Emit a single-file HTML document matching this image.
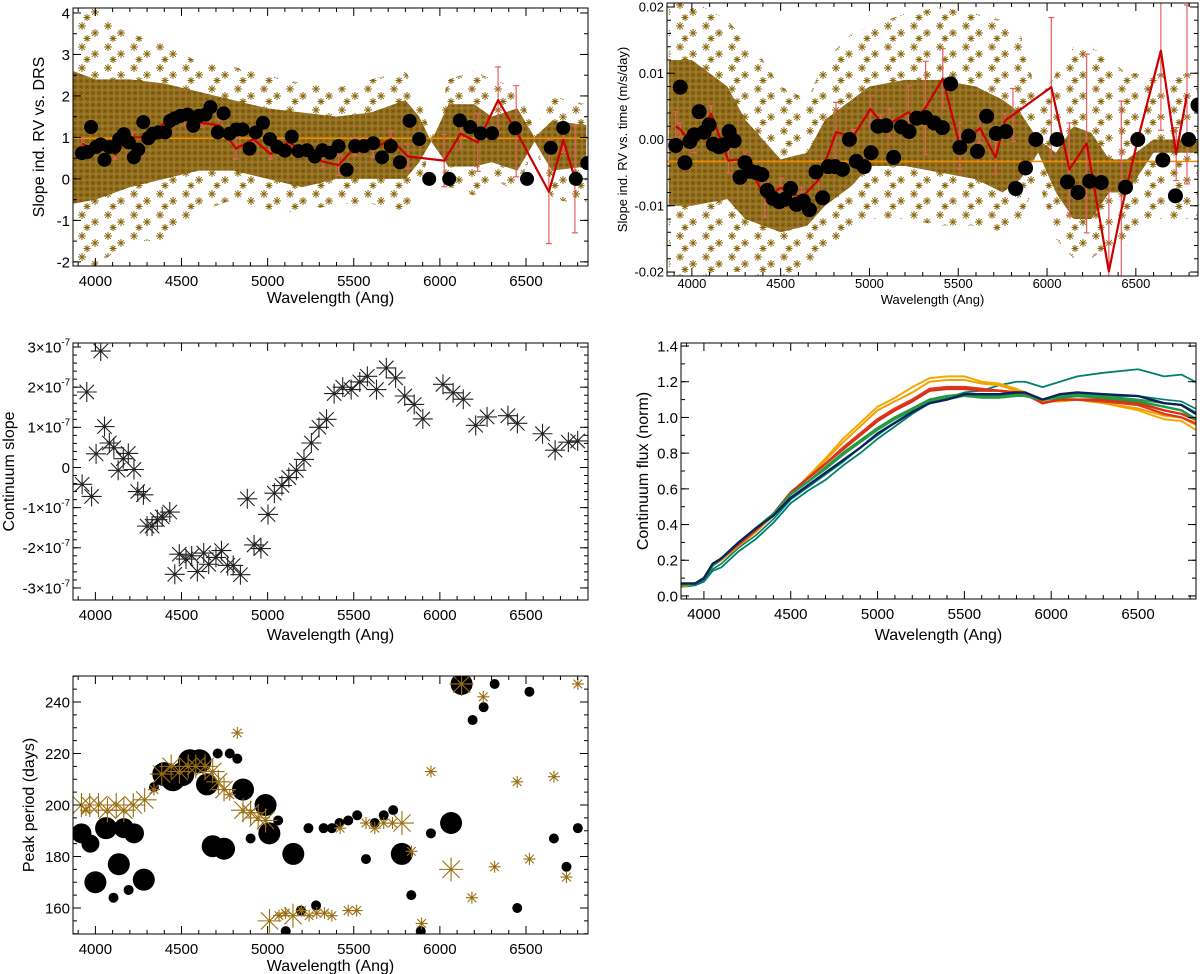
<!DOCTYPE html>
<html><head><meta charset="utf-8">
<style>
html,body{margin:0;padding:0;background:#fff;}
svg{display:block;font-family:"Liberation Sans",Arial,sans-serif;}
</style></head>
<body>
<svg id="fig" width="1200" height="974" viewBox="0 0 1200 974" xmlns="http://www.w3.org/2000/svg">
<defs>
<pattern id="densePat" patternUnits="userSpaceOnUse" width="6" height="6">
 <rect width="6" height="6" fill="#a8843a"/>
 <path d="M3 0V6M0 3H6M0.6 0.6L5.4 5.4M5.4 0.6L0.6 5.4" stroke="#7a5806" stroke-width="0.9"/>
</pattern>
<pattern id="sparsePat" patternUnits="userSpaceOnUse" width="26" height="21">
 <path d="M4 1V9M0 5H8M1.2 2.2L6.8 7.8M6.8 2.2L1.2 7.8" stroke="#8b6508" stroke-width="1"/>
 <path d="M17 8V16M13 12H21M14.2 9.2L19.8 14.8M19.8 9.2L14.2 14.8" stroke="#8b6508" stroke-width="1"/>
 <path d="M9 14V21M5.5 17.5H12.5M6.5 15L11.5 20M11.5 15L6.5 20" stroke="#8b6508" stroke-width="1"/>
</pattern>
</defs>
</svg>
<script>
// ---------------- Panel 1 data: slope vs DRS ----------------
const p1BandLam = [3870,4000,4200,4400,4600,4800,5000,5200,5400,5600,5800,5880,5950,6050,6200,6300,6450,6550,6650,6850];
const p1InnerHi = [2.6,2.4,2.4,2.3,2.1,1.9,1.7,1.6,1.5,1.6,1.9,1.5,0.9,1.8,1.8,1.5,1.7,1.0,1.4,1.3];
const p1InnerLo = [-0.6,-0.5,-0.2,0.0,0.2,0.2,0.0,-0.2,0.0,0.0,0.0,0.4,0.9,0.3,0.3,0.4,0.2,0.9,0.2,0.3];
const p1OuterHi = [4.1,4.1,3.5,3.3,2.8,2.7,2.5,2.3,2.2,2.4,2.6,2.0,1.0,2.4,2.6,2.4,2.2,1.2,2.0,1.8];
const p1OuterLo = [-2.1,-2.1,-1.5,-1.5,-0.8,-0.5,-0.8,-0.8,-0.6,-0.6,-0.8,-0.2,0.8,-0.2,-0.4,0.0,-0.3,0.8,-0.5,-0.6];
const p1DotLam = [3922,3955,3975,4004,4031,4053,4082,4111,4138,4165,4194,4223,4249,4278,4307,4334,4365,4405,4434,4461,4494,4535,4568,4601,4639,4668,4711,4744,4780,4817,4855,4895,4931,4973,5013,5056,5100,5140,5180,5229,5274,5318,5363,5412,5459,5508,5559,5613,5664,5715,5768,5824,5880,5938,6054,6116,6176,6237,6303,6437,6506,6644,6716,6789,6856];
const p1DotVal = [0.62,0.65,1.25,0.77,0.83,0.46,0.77,0.77,0.96,1.08,0.88,0.52,0.71,1.37,0.98,1.09,1.12,1.12,1.4,1.46,1.52,1.55,1.28,1.52,1.55,1.73,1.12,1.58,1.09,1.19,1.19,0.73,1.12,1.35,0.96,0.77,0.68,1.02,0.67,0.69,0.54,0.69,0.63,0.79,0.22,0.79,0.79,0.86,0.52,0.79,0.4,1.4,0.96,0.0,0.0,1.41,1.25,1.1,1.1,1.22,0.0,0.75,1.23,0.0,0.38];
const p1RedLam = [3922,3960,4015,4060,4116,4171,4216,4283,4350,4428,4517,4617,4717,4817,4918,5018,5118,5218,5318,5412,5508,5613,5715,5815,6025,6120,6220,6338,6443,6633,6717,6784];
const p1RedVal = [0.85,0.77,0.85,0.85,0.58,0.92,1.0,1.0,1.15,1.46,1.42,1.35,1.29,0.73,0.96,0.6,0.88,0.69,0.42,0.33,0.77,0.72,0.96,0.54,0.44,1.09,0.88,1.9,1.15,-0.31,0.94,0.0];
const p1RedErr = [0.15,0.05,0.05,0.05,0.1,0.05,0.12,0.05,0.05,0.1,0.1,0.1,0.15,0.25,0.1,0.12,0.05,0.08,0.15,0.25,0.2,0.2,0.2,0.3,0.63,0.35,0.7,0.8,1.1,1.25,0.3,1.3];
const p1Mean = [0.98];

// ---------------- Panel 2 data: slope vs time ----------------
const p2BandLam = [3870,4000,4200,4300,4400,4500,4650,4750,4900,5000,5200,5400,5600,5750,5850,5950,6050,6150,6250,6350,6450,6600,6850];
const p2InnerHi = [0.012,0.012,0.008,0.003,0.0,-0.003,-0.002,0.003,0.006,0.008,0.009,0.009,0.008,0.006,0.004,0.0,-0.002,0.002,0.001,-0.003,-0.003,0.0,0.0];
const p2InnerLo = [-0.01,-0.01,-0.009,-0.012,-0.013,-0.014,-0.013,-0.01,-0.007,-0.004,-0.004,-0.005,-0.006,-0.008,-0.006,-0.002,-0.008,-0.012,-0.012,-0.008,-0.008,-0.002,-0.002];
const p2OuterHi = [0.021,0.021,0.018,0.015,0.012,0.008,0.006,0.012,0.016,0.017,0.019,0.02,0.019,0.018,0.016,0.006,0.01,0.014,0.014,0.012,0.01,0.01,0.01];
const p2OuterLo = [-0.021,-0.021,-0.02,-0.02,-0.021,-0.021,-0.02,-0.017,-0.014,-0.012,-0.012,-0.013,-0.013,-0.014,-0.012,-0.006,-0.015,-0.018,-0.018,-0.016,-0.016,-0.012,-0.012];
const p2DotLam = [3909,3935,3961,3989,4013,4041,4069,4097,4121,4152,4177,4210,4238,4271,4299,4329,4361,4394,4424,4457,4491,4524,4556,4589,4628,4662,4699,4736,4768,4807,4848,4887,4926,4970,5009,5048,5093,5136,5180,5223,5266,5316,5364,5411,5457,5509,5558,5608,5660,5714,5768,5823,5879,5937,6056,6115,6175,6240,6305,6442,6511,6652,6723,6797,6850];
const p2DotVal = [-0.0009,0.0079,-0.0035,-0.0003,0.0007,0.0042,0.0011,0.0022,-0.0007,-0.0011,-0.0008,0.0012,-0.0002,-0.0057,-0.0035,-0.0048,-0.005,-0.0053,-0.0077,-0.0089,-0.0094,-0.009,-0.0074,-0.0098,-0.0093,-0.0106,-0.0049,-0.0088,-0.0041,-0.0041,-0.0045,0.0,-0.0033,-0.0041,-0.002,0.002,0.0021,-0.0027,0.0019,0.0012,0.0032,0.0033,0.0025,0.0018,0.0084,-0.0012,0.0005,-0.0018,0.0035,0.0009,0.0012,-0.0074,-0.0043,0.0,0.0,-0.0064,-0.008,-0.0063,-0.0065,-0.0072,0.0,-0.0031,-0.0085,0.0,0.0052];
const p2RedLam = [3909,3935,4011,4108,4206,4303,4411,4502,4617,4714,4812,4909,5006,5061,5115,5219,5266,5316,5413,5509,5569,5623,5710,5764,5808,6024,6126,6223,6348,6418,6511,6641,6727,6788];
const p2RedVal = [0.002,0.0015,-0.001,0.0039,-0.0032,-0.0029,-0.0088,-0.0073,-0.0088,-0.0061,0.0011,0.0005,0.0046,0.0027,0.0024,0.0041,0.0032,0.0048,0.0092,-0.001,0.0005,0.0017,-0.0027,0.0029,0.0037,0.0079,-0.0045,-0.0006,-0.0199,-0.0107,0.0,0.0134,-0.0022,0.0068];
const p2RedErr = [0.0022,0.001,0.001,0.0012,0.0018,0.001,0.003,0.0015,0.0015,0.002,0.0045,0.001,0.002,0.001,0.0022,0.004,0.001,0.007,0.0045,0.0035,0.001,0.0022,0.0025,0.001,0.004,0.0105,0.007,0.0135,0.012,0.0165,0.001,0.012,0.004,0.0135];
const p2Mean = [-0.0033];

// ---------------- Panel 3 data: continuum slope (units 1e-7) ----------------
const p3Lam = [3923,3978,3950,4004,4031,4053,4081,4107,4132,4162,4191,4224,4246,4279,4300,4329,4360,4388,4432,4461,4487,4526,4559,4592,4629,4658,4700,4732,4768,4800,4842,4882,4921,4961,5002,5039,5083,5123,5167,5211,5254,5298,5342,5386,5436,5485,5535,5579,5632,5689,5743,5796,5851,5901,6018,6077,6136,6208,6274,6395,6450,6596,6669,6746,6800];
const p3Val = [-0.42,-0.72,1.88,0.34,2.9,1.02,0.61,0.49,-0.07,0.22,0.35,-0.05,-0.6,-0.68,-1.46,-1.46,-1.3,-1.23,-1.11,-2.66,-2.16,-2.28,-2.2,-2.59,-2.13,-2.41,-2.24,-2.07,-2.44,-2.44,-2.67,-0.78,-1.93,-2.02,-1.17,-0.64,-0.45,-0.25,-0.07,0.2,0.61,1.0,1.2,1.84,2.0,1.94,2.13,2.27,1.94,2.48,2.23,1.78,1.57,1.21,2.07,1.86,1.7,1.05,1.26,1.29,1.1,0.84,0.43,0.63,0.66];

// ---------------- Panel 4 data: continuum flux curves ----------------
const p4Lam = [3870,3950,4000,4050,4100,4200,4300,4400,4500,4600,4700,4800,4900,5000,5100,5200,5300,5400,5500,5600,5700,5800,5850,5950,6050,6150,6300,6500,6650,6750,6850];
const p4Yellow1 = [0.05,0.07,0.1,0.17,0.2,0.28,0.36,0.45,0.57,0.67,0.77,0.88,0.97,1.06,1.11,1.17,1.22,1.23,1.23,1.2,1.19,1.16,1.14,1.09,1.09,1.1,1.08,1.04,0.99,0.98,0.92];
const p4Yellow2 = [0.05,0.07,0.1,0.17,0.2,0.28,0.36,0.45,0.57,0.66,0.76,0.86,0.95,1.04,1.09,1.14,1.2,1.21,1.21,1.19,1.18,1.15,1.13,1.09,1.09,1.1,1.08,1.05,1.01,1.0,0.95];
const p4Red1 = [0.06,0.07,0.1,0.17,0.21,0.29,0.37,0.46,0.58,0.66,0.74,0.83,0.91,0.99,1.05,1.1,1.16,1.17,1.17,1.16,1.15,1.14,1.13,1.08,1.1,1.1,1.09,1.07,1.02,1.0,0.96];
const p4Red2 = [0.06,0.07,0.1,0.17,0.21,0.29,0.37,0.46,0.58,0.66,0.74,0.82,0.9,0.98,1.04,1.09,1.15,1.16,1.16,1.15,1.15,1.14,1.13,1.08,1.1,1.1,1.1,1.08,1.04,1.02,0.98];
const p4Green1 = [0.06,0.07,0.1,0.17,0.21,0.3,0.38,0.46,0.57,0.64,0.72,0.8,0.87,0.94,1.0,1.05,1.1,1.12,1.13,1.12,1.12,1.13,1.12,1.1,1.11,1.12,1.11,1.09,1.06,1.04,0.98];
const p4Green2 = [0.06,0.07,0.1,0.17,0.21,0.3,0.38,0.46,0.57,0.64,0.71,0.79,0.86,0.93,0.99,1.04,1.09,1.11,1.12,1.11,1.11,1.12,1.12,1.1,1.12,1.13,1.12,1.1,1.08,1.07,1.02];
const p4Navy = [0.07,0.07,0.1,0.18,0.21,0.3,0.38,0.45,0.55,0.62,0.69,0.76,0.83,0.91,0.97,1.03,1.08,1.1,1.13,1.13,1.13,1.14,1.14,1.1,1.13,1.14,1.13,1.12,1.08,1.07,1.01];
const p4Teal1 = [0.05,0.06,0.08,0.14,0.16,0.25,0.32,0.41,0.52,0.59,0.65,0.73,0.8,0.88,0.95,1.02,1.08,1.11,1.14,1.15,1.18,1.2,1.2,1.17,1.2,1.23,1.25,1.27,1.23,1.24,1.19];
const p4Teal2 = [0.05,0.06,0.09,0.15,0.18,0.27,0.34,0.43,0.54,0.61,0.68,0.75,0.83,0.9,0.97,1.03,1.08,1.1,1.12,1.11,1.11,1.12,1.12,1.1,1.12,1.13,1.12,1.12,1.1,1.09,1.04];

// ---------------- Panel 5 data: peak period ----------------
const p5DotLam = [3919,3971,4062,4000,4165,4224,4136,4281,4105,4193,4340,4400,4450,4505,4549,4604,4648,4681,4747,4710,4780,4824,4857,4988,5010,4901,5061,5149,5237,5325,5373,5417,5468,5520,5571,5622,5674,5729,5779,5834,5889,5948,6065,6126,6190,6254,6318,6520,6449,6662,6735,6801,5105,5193,5281];
const p5DotVal = [189,185,191,170,191,189,177,171,164,167,207,212,210,212,217,217,208,184,183,220,220,218,206,200,189,187,194,181,191,191,191,193,194,196,179,193,196,198,181,165,151,189,193,247,233,238,247,244,160,187,176,191,151,159,161];
const p5DotSize = [10,9,11,11,10,10,11,11,5,5,5,12,12,12,12,12,11,11,11,5,5,5,11,11,11,5,5,11,5,5,5,5,5,5,5,5,5,5,11,5,5,5,11,11,5,5,5,5,5,5,5,5,5,5,5];
const p5StarLam = [3919,3967,4018,3945,4070,4121,4165,4220,4286,4340,4385,4440,4488,4539,4583,4637,4681,4714,4747,4780,4824,4857,4901,4945,4988,5011,5066,5103,5147,5197,5241,5285,5330,5373,5421,5468,5517,5571,5622,5674,5725,5780,5835,5894,5948,6065,6126,6186,6252,6318,6449,6520,6662,6735,6801];
const p5StarVal = [200,200,200,198,198,200,198,200,202,206,212,215,213,215,215,215,213,209,206,204,228,198,197,195,194,155,157,158,157,159,157,158,158,157,191,159,159,193,191,193,193,193,182,154,213,175,247,164,242,176,209,179,211,172,247];
const p5StarSize = [12,12,12,6,12,12,12,12,12,6,12,12,12,12,12,12,12,12,12,6,6,12,12,12,12,12,6,6,12,6,6,6,6,6,6,6,6,6,6,6,6,12,6,6,6,12,12,6,6,6,6,6,6,6,6];

const NS = "http://www.w3.org/2000/svg";
const svg = document.getElementById('fig');
function mk(tag, attrs, parent){
  const e = document.createElementNS(NS, tag);
  for (const k in attrs) e.setAttribute(k, attrs[k]);
  (parent || svg).appendChild(e);
  return e;
}

function panel(cfg){
  const g = mk('g', {});
  
  
  const sx = v => cfg.x0 + (v - cfg.xd[0]) / (cfg.xd[1] - cfg.xd[0]) * (cfg.x1 - cfg.x0);
  const sy = v => cfg.y1 - (v - cfg.yd[0]) / (cfg.yd[1] - cfg.yd[0]) * (cfg.y1 - cfg.y0);
  const cid = 'clip-' + cfg.name;
  const cp = mk('clipPath', {id: cid}, g);
  mk('rect', {x: cfg.x0, y: cfg.y0, width: cfg.x1 - cfg.x0, height: cfg.y1 - cfg.y0}, cp);
  const plot = mk('g', {'clip-path': 'url(#' + cid + ')'}, g);
  
  
  const ax = mk('g', {stroke: '#000', 'stroke-width': 1, fill: 'none'}, g);
  
  
  mk('rect', {x: cfg.x0, y: cfg.y0, width: cfg.x1 - cfg.x0, height: cfg.y1 - cfg.y0}, ax);
  for (let v = cfg.xMinorStart; v <= cfg.xd[1]; v += cfg.xMinor){
    if (v < cfg.xd[0]) continue;
    const isMaj = Math.abs(((v - cfg.xMajorStart) % cfg.xMajor + cfg.xMajor) % cfg.xMajor) < 1e-6;
    const L = isMaj ? 8 : 4;
    const x = sx(v);
    mk('line', {x1: x, x2: x, y1: cfg.y1, y2: cfg.y1 - L}, ax);
    mk('line', {x1: x, x2: x, y1: cfg.y0, y2: cfg.y0 + L}, ax);
  }
  cfg.yMinorVals.forEach(v => {
    const y = sy(v);
    mk('line', {x1: cfg.x0, x2: cfg.x0 + 4, y1: y, y2: y}, ax);
    mk('line', {x1: cfg.x1, x2: cfg.x1 - 4, y1: y, y2: y}, ax);
  });
  cfg.yTicks.forEach(v => {
    const y = sy(v);
    mk('line', {x1: cfg.x0, x2: cfg.x0 + 8, y1: y, y2: y}, ax);
    mk('line', {x1: cfg.x1, x2: cfg.x1 - 8, y1: y, y2: y}, ax);
  });
  const fs = cfg.fs;
  cfg.xLabels.forEach(v => {
    const t = mk('text', {x: sx(v), y: cfg.y1 + cfg.xLabOff, 'font-size': fs, 'text-anchor': 'middle', fill: '#000'}, g);
    
    
    t.textContent = v;
  });
  cfg.yTicks.forEach((v, i) => {
    const t = mk('text', {x: cfg.x0 - 3, y: sy(v) + fs * 0.36, 'font-size': fs, 'text-anchor': 'end', fill: '#000'}, g);
    
    
    if (cfg.sci) {
      const n = cfg.yTickText[i];
      if (n === '0') t.textContent = '0';
      else {
        t.textContent = n + '\u00d710';
        const sp = mk('tspan', {dy: -7, 'font-size': fs * 0.65}, t);
        sp.textContent = '-7';
      }
    } else t.textContent = cfg.yTickText[i];
  });
  const xt = mk('text', {x: (cfg.x0 + cfg.x1) / 2, y: cfg.xTitleY, 'font-size': cfg.tfs, 'text-anchor': 'middle', fill: '#000'}, g);
  
  
  xt.textContent = 'Wavelength (Ang)';
  const yt = mk('text', {x: 0, y: 0, 'font-size': cfg.tfs, 'text-anchor': 'middle', fill: '#000',
    transform: 'translate(' + cfg.yTitleX + ',' + (cfg.y0 + cfg.y1) / 2 + ') rotate(-90)'}, g);
  
  
  yt.textContent = cfg.yTitle;
  return {sx, sy, plot};
}

function band(P, lam, hi, lo, fill, name){
  let d = '';
  lam.forEach((l, i) => { d += (i ? 'L' : 'M') + P.sx(l) + ' ' + P.sy(hi[i]); });
  for (let i = lam.length - 1; i >= 0; i--) d += 'L' + P.sx(lam[i]) + ' ' + P.sy(lo[i]);
  const p = mk('path', {d: d + 'Z', fill: fill, stroke: 'none'}, P.plot);
  
  
}
function line(P, xs, ys, color, w, name){
  const d = xs.map((x, i) => (i ? 'L' : 'M') + P.sx(x) + ' ' + P.sy(ys[i])).join('');
  const p = mk('path', {d: d, fill: 'none', stroke: color, 'stroke-width': w, 'stroke-linejoin': 'round'}, P.plot);
  
  
}
function errbars(P, xs, ys, es, name){
  const g = mk('g', {stroke: '#e06060', 'stroke-width': 1.2}, P.plot);
  
  
  xs.forEach((x, i) => {
    const X = P.sx(x), a = P.sy(ys[i] + es[i]), b = P.sy(ys[i] - es[i]);
    mk('line', {x1: X, x2: X, y1: a, y2: b}, g);
    mk('line', {x1: X - 3, x2: X + 3, y1: a, y2: a}, g);
    mk('line', {x1: X - 3, x2: X + 3, y1: b, y2: b}, g);
  });
}
function dots(P, xs, ys, rs, name){
  const g = mk('g', {fill: '#000'}, P.plot);
  
  
  xs.forEach((x, i) => {
    const c = mk('circle', {cx: P.sx(x), cy: P.sy(ys[i]), r: Array.isArray(rs) ? rs[i] : rs}, g);
    
    
  });
}
function stars(P, xs, ys, ss, color, w, name){
  const g = mk('g', {stroke: color, 'stroke-width': w, fill: color}, P.plot);
  
  
  xs.forEach((x, i) => {
    const X = P.sx(x), Y = P.sy(ys[i]), s = Array.isArray(ss) ? ss[i] : ss, d = s * 0.72;
    const p = mk('path', {d: 'M' + (X - s) + ' ' + Y + 'H' + (X + s) + 'M' + X + ' ' + (Y - s) + 'V' + (Y + s) +
      'M' + (X - d) + ' ' + (Y - d) + 'L' + (X + d) + ' ' + (Y + d) + 'M' + (X - d) + ' ' + (Y + d) + 'L' + (X + d) + ' ' + (Y - d)}, g);
    
    
    mk('circle', {cx: X, cy: Y, r: 1.3, stroke: 'none'}, g);
  });
}
function range(a, b, s){ const r = []; for (let v = a; v <= b + 1e-9; v += s) r.push(+v.toFixed(6)); return r; }

// ---- Panel 1 ----
const P1 = panel({name: 'panel-slope-vs-drs', x0: 73, x1: 588, y0: 8, y1: 266, xd: [3870, 6860], yd: [-2.1, 4.12],
  xMajor: 500, xMajorStart: 4000, xMinor: 100, xMinorStart: 3900, xLabels: [4000,4500,5000,5500,6000,6500],
  yTicks: [-2,-1,0,1,2,3,4], yTickText: ['-2','-1','0','1','2','3','4'], yMinorVals: range(-2, 4, 0.5),
  fs: 15, tfs: 16, xLabOff: 20, xTitleY: 303, yTitleX: 44, yTitle: 'Slope ind. RV vs. DRS'});
band(P1, p1BandLam, p1OuterHi, p1OuterLo, 'url(#sparsePat)', 'sparse-line-scatter');
band(P1, p1BandLam, p1InnerHi, p1InnerLo, 'url(#densePat)', 'dense-line-scatter');
line(P1, [3870, 6860], [p1Mean[0], p1Mean[0]], '#f08c00', 1.6, 'mean-line');
errbars(P1, p1RedLam, p1RedVal, p1RedErr, 'binned-error-bars');
line(P1, p1RedLam, p1RedVal, '#cc0000', 2.2, 'binned-mean-line');
dots(P1, p1DotLam, p1DotVal, 7, 'order-points');

// ---- Panel 2 ----
const P2 = panel({name: 'panel-slope-vs-time', x0: 667, x1: 1198, y0: 3, y1: 276, xd: [3860, 6850], yd: [-0.0206, 0.0206],
  xMajor: 500, xMajorStart: 4000, xMinor: 100, xMinorStart: 3900, xLabels: [4000,4500,5000,5500,6000,6500],
  yTicks: [-0.02,-0.01,0,0.01,0.02], yTickText: ['-0.02','-0.01','0.00','0.01','0.02'], yMinorVals: range(-0.02, 0.02, 0.002),
  fs: 13, tfs: 13, xLabOff: 12, xTitleY: 304, yTitleX: 627, yTitle: 'Slope ind. RV vs. time (m/s/day)'});
band(P2, p2BandLam, p2OuterHi, p2OuterLo, 'url(#sparsePat)', 'sparse-line-scatter');
band(P2, p2BandLam, p2InnerHi, p2InnerLo, 'url(#densePat)', 'dense-line-scatter');
line(P2, [3860, 6850], [p2Mean[0], p2Mean[0]], '#f08c00', 1.6, 'mean-line');
errbars(P2, p2RedLam, p2RedVal, p2RedErr, 'binned-error-bars');
line(P2, p2RedLam, p2RedVal, '#cc0000', 2.2, 'binned-mean-line');
dots(P2, p2DotLam, p2DotVal, 7.5, 'order-points');

// ---- Panel 3 ----
const P3 = panel({name: 'panel-continuum-slope', x0: 73, x1: 588, y0: 343, y1: 600, xd: [3870, 6860], yd: [-3.3, 3.1],
  xMajor: 500, xMajorStart: 4000, xMinor: 100, xMinorStart: 3900, xLabels: [4000,4500,5000,5500,6000,6500],
  yTicks: [-3,-2,-1,0,1,2,3], yTickText: ['-3','-2','-1','0','1','2','3'], yMinorVals: range(-3, 3, 0.2), sci: true,
  fs: 15, tfs: 16, xLabOff: 20, xTitleY: 640, yTitleX: 14, yTitle: 'Continuum slope'});
stars(P3, p3Lam, p3Val, 10, '#222', 1.1, 'slope-asterisks');

// ---- Panel 4 ----
const P4 = panel({name: 'panel-continuum-flux', x0: 681, x1: 1196, y0: 343, y1: 599, xd: [3868, 6834], yd: [-0.017, 1.417],
  xMajor: 500, xMajorStart: 4000, xMinor: 100, xMinorStart: 3900, xLabels: [4000,4500,5000,5500,6000,6500],
  yTicks: [0,0.2,0.4,0.6,0.8,1.0,1.2,1.4], yTickText: ['0.0','0.2','0.4','0.6','0.8','1.0','1.2','1.4'], yMinorVals: range(0, 1.4, 0.1),
  fs: 15, tfs: 16, xLabOff: 20, xTitleY: 640, yTitleX: 648, yTitle: 'Continuum flux (norm)'});
line(P4, p4Lam, p4Teal1, '#00806a', 1.8, 'flux-curve-teal-1');
line(P4, p4Lam, p4Teal2, '#00806a', 1.6, 'flux-curve-teal-2');
line(P4, p4Lam, p4Yellow1, '#f5a800', 2, 'flux-curve-yellow-1');
line(P4, p4Lam, p4Yellow2, '#f0a000', 2, 'flux-curve-yellow-2');
line(P4, p4Lam, p4Red1, '#e03a1a', 2.4, 'flux-curve-red-1');
line(P4, p4Lam, p4Red2, '#d8301a', 2.4, 'flux-curve-red-2');
line(P4, p4Lam, p4Green1, '#1f9a3a', 2.4, 'flux-curve-green-1');
line(P4, p4Lam, p4Green2, '#2a9a4a', 2, 'flux-curve-green-2');
line(P4, p4Lam, p4Navy, '#0a2360', 2.4, 'flux-curve-navy');

// ---- Panel 5 ----
const P5 = panel({name: 'panel-peak-period', x0: 73, x1: 588, y0: 676, y1: 934, xd: [3870, 6860], yd: [149.9, 250.1],
  xMajor: 500, xMajorStart: 4000, xMinor: 100, xMinorStart: 3900, xLabels: [4000,4500,5000,5500,6000,6500],
  yTicks: [160,180,200,220,240], yTickText: ['160','180','200','220','240'], yMinorVals: range(150, 250, 5),
  fs: 15, tfs: 16, xLabOff: 20, xTitleY: 971, yTitleX: 34, yTitle: 'Peak period (days)'});
dots(P5, p5DotLam, p5DotVal, p5DotSize, 'period-dots');
stars(P5, p5StarLam, p5StarVal, p5StarSize, '#9a6e10', 1.1, 'period-asterisks');
</script>
</body></html>
